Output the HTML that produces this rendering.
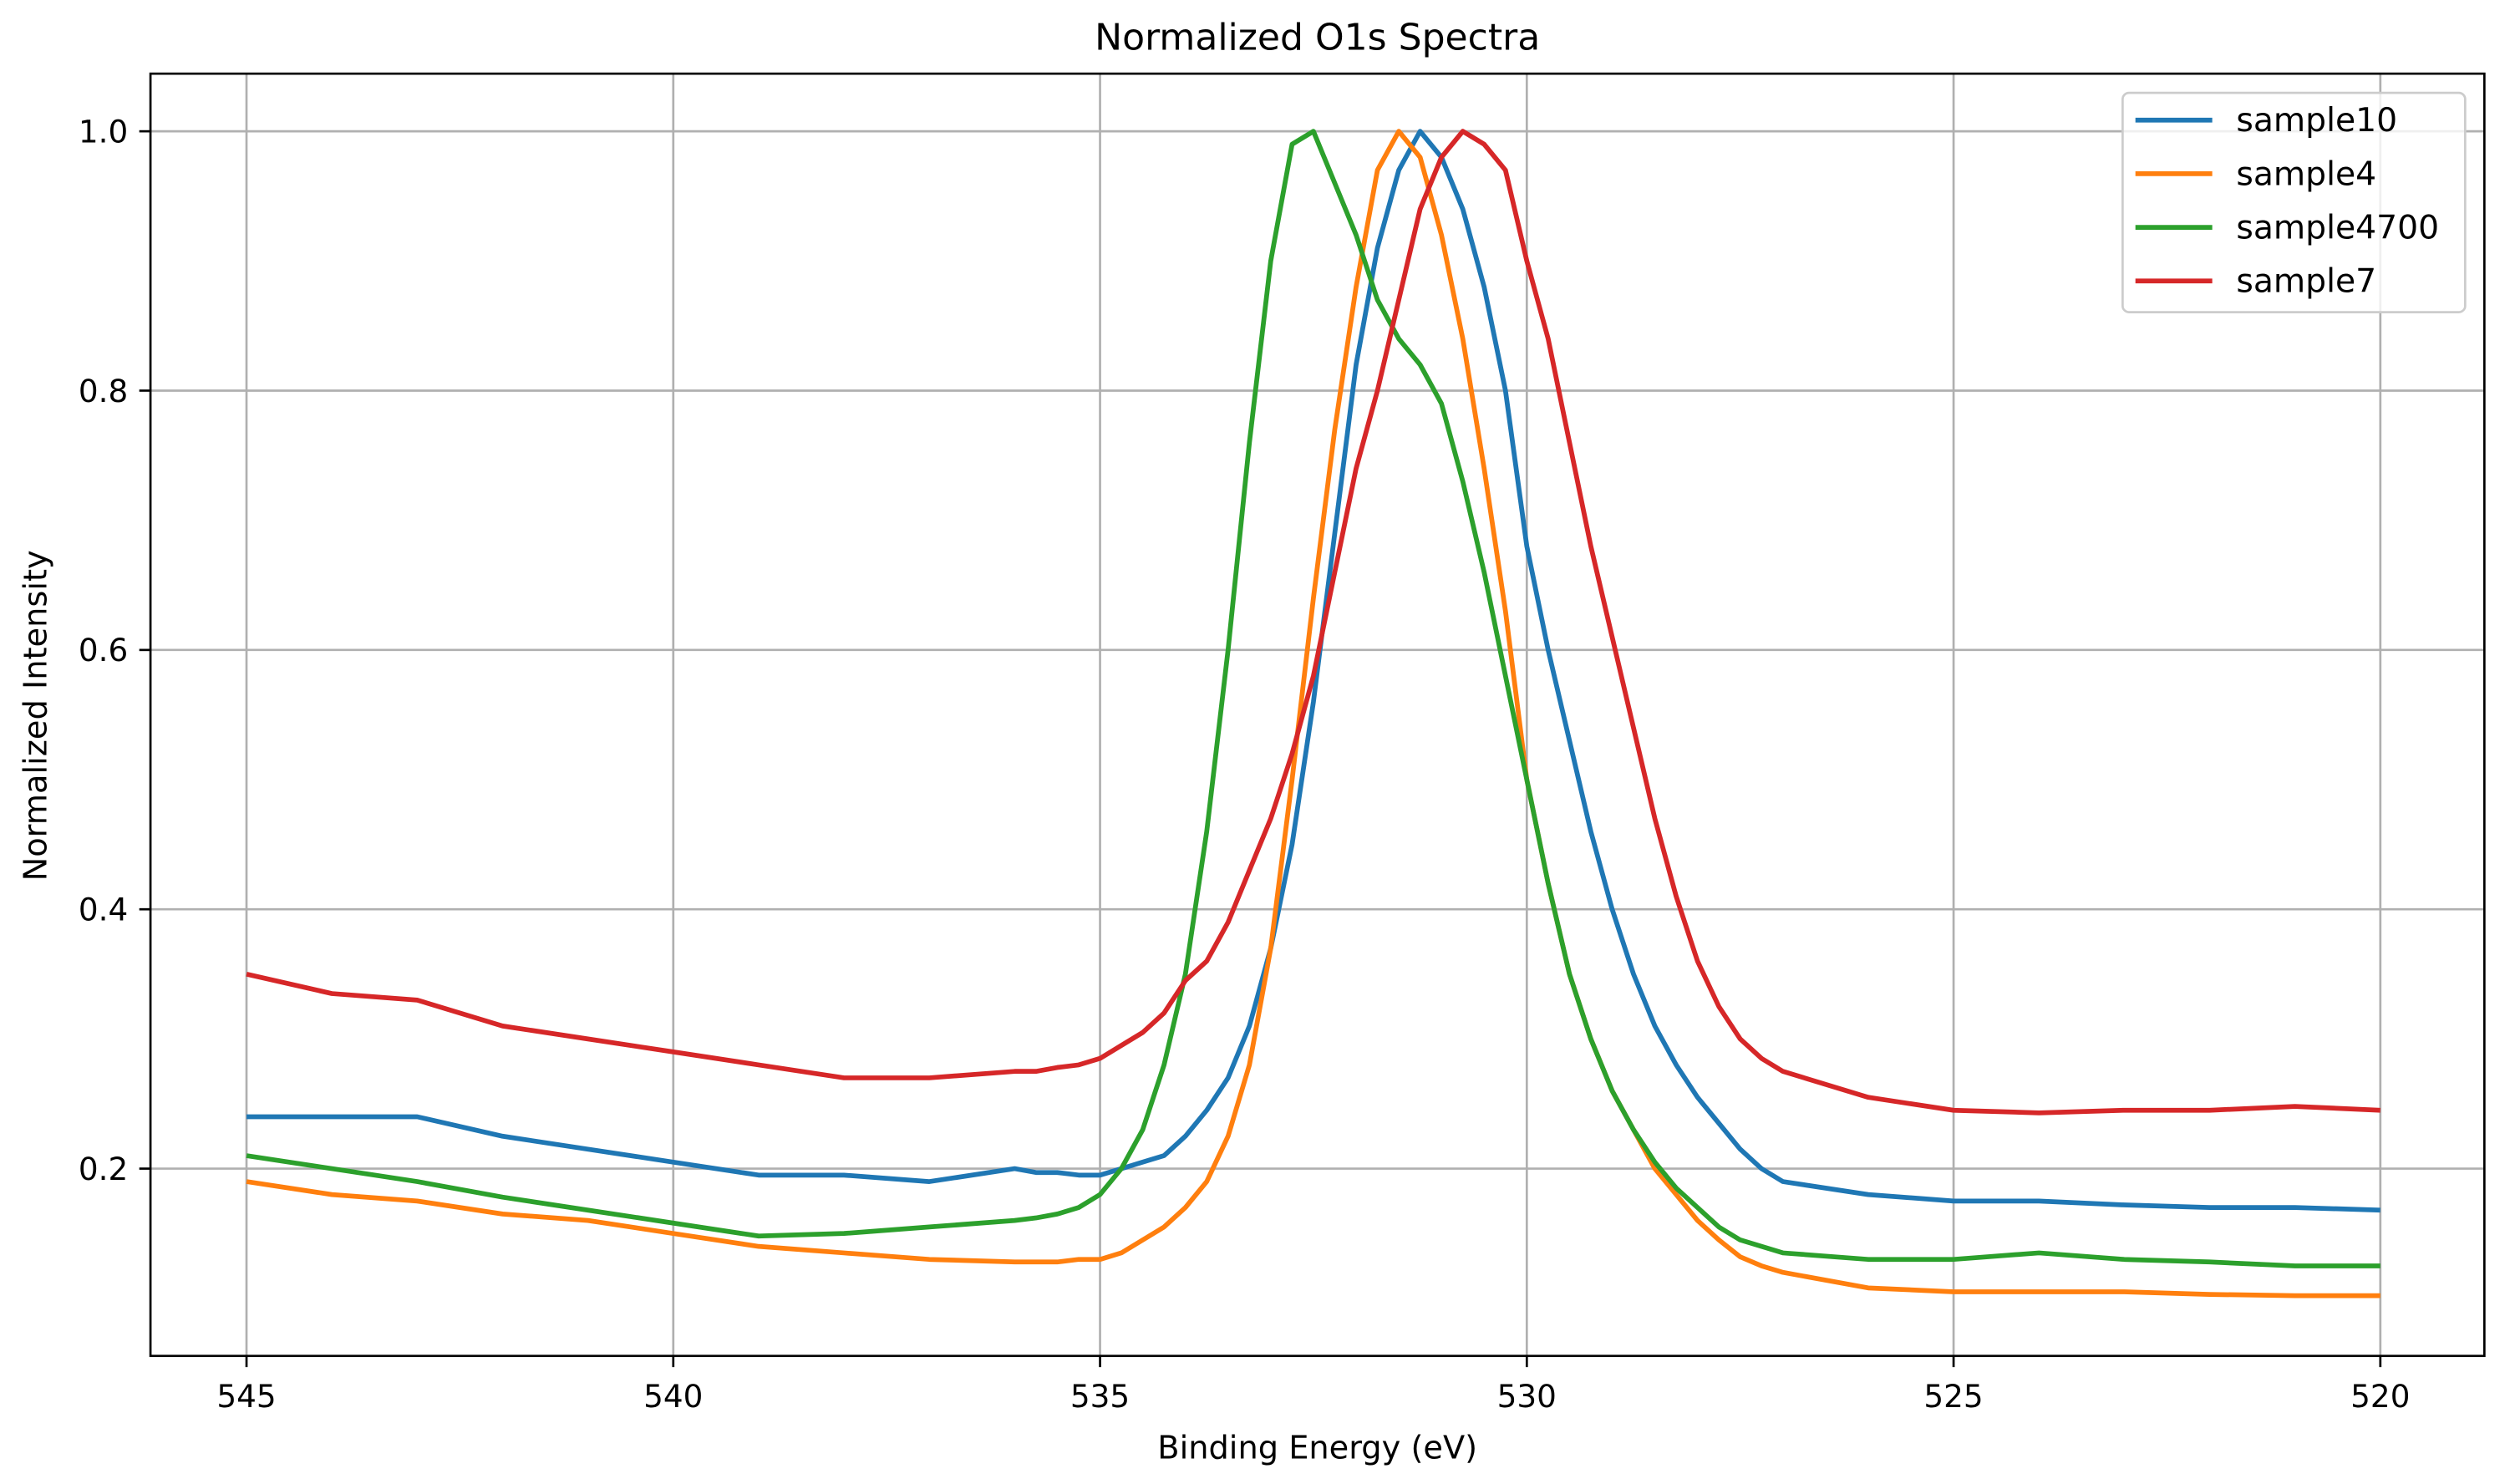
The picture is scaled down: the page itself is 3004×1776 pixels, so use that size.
<!DOCTYPE html>
<html><head><meta charset="utf-8">
<style>
html,body{margin:0;padding:0;background:#fff;}
svg{display:block;font-family:"DejaVu Sans","Liberation Sans",sans-serif;}
</style></head>
<body>
<svg id="chart" width="3004" height="1776" viewBox="0 0 1568 927" xmlns="http://www.w3.org/2000/svg">
<rect x="0" y="0" width="1568" height="927" fill="#fff"/>
<text x="823" y="31" font-size="23" text-anchor="middle" fill="#000">Normalized O1s Spectra</text>
<g id="grid"></g>
<g id="series"></g>
<rect x="94" y="46" width="1458" height="801" fill="none" stroke="#000" stroke-width="1.4"/>
<g id="ticks"></g>
<text x="823" y="911" font-size="20" text-anchor="middle" fill="#000">Binding Energy (eV)</text>
<text x="0" y="0" font-size="20" text-anchor="middle" fill="#000" transform="translate(29,447) rotate(-90)">Normalized Intensity</text>
<g id="legend"></g>
</svg>
<script>
const energies=[545,544,543,542,541,540,539,538,537,536,535.75,535.5,535.25,535,534.75,534.5,534.25,534,533.75,533.5,533.25,533,532.75,532.5,532.25,532,531.75,531.5,531.25,531,530.75,530.5,530.25,530,529.75,529.5,529.25,529,528.75,528.5,528.25,528,527.75,527.5,527.25,527,526,525,524,523,522,521,520];
const sample10=[0.24,0.24,0.24,0.225,0.215,0.205,0.195,0.195,0.19,0.20,0.197,0.197,0.195,0.195,0.20,0.205,0.21,0.225,0.245,0.27,0.31,0.37,0.45,0.56,0.69,0.82,0.91,0.97,1.0,0.98,0.94,0.88,0.80,0.68,0.60,0.53,0.46,0.40,0.35,0.31,0.28,0.255,0.235,0.215,0.20,0.19,0.18,0.175,0.175,0.172,0.17,0.17,0.168];
const sample4=[0.19,0.18,0.175,0.165,0.16,0.15,0.14,0.135,0.13,0.128,0.128,0.128,0.13,0.13,0.135,0.145,0.155,0.17,0.19,0.225,0.28,0.37,0.50,0.64,0.77,0.88,0.97,1.0,0.98,0.92,0.84,0.74,0.63,0.50,0.42,0.35,0.30,0.26,0.23,0.20,0.18,0.16,0.145,0.132,0.125,0.12,0.108,0.105,0.105,0.105,0.103,0.102,0.102];
const sample4700=[0.21,0.20,0.19,0.178,0.168,0.158,0.148,0.15,0.155,0.16,0.162,0.165,0.17,0.18,0.20,0.23,0.28,0.35,0.46,0.60,0.76,0.90,0.99,1.0,0.96,0.92,0.87,0.84,0.82,0.79,0.73,0.66,0.58,0.50,0.42,0.35,0.30,0.26,0.23,0.205,0.185,0.17,0.155,0.145,0.14,0.135,0.13,0.13,0.135,0.13,0.128,0.125,0.125];
const sample7=[0.35,0.335,0.33,0.31,0.30,0.29,0.28,0.27,0.27,0.275,0.275,0.278,0.28,0.285,0.295,0.305,0.32,0.345,0.36,0.39,0.43,0.47,0.52,0.58,0.66,0.74,0.80,0.87,0.94,0.98,1.0,0.99,0.97,0.90,0.84,0.76,0.68,0.61,0.54,0.47,0.41,0.36,0.325,0.30,0.285,0.275,0.255,0.245,0.243,0.245,0.245,0.248,0.245];
const seriesNames=["sample10","sample4","sample4700","sample7"];
const seriesColors=["#1f77b4","#ff7f0e","#2ca02c","#d62728"];
const xTicks=[545,540,535,530,525,520];
const yTicks=[0.2,0.4,0.6,0.8,1.0];
const NS="http://www.w3.org/2000/svg";
function xs(v){return 154+(545-v)*(1487-154)/25;}
function ys(v){return 730-(v-0.2)*(730-82)/0.8;}
function mk(tag,attrs,parent){const e=document.createElementNS(NS,tag);for(const k in attrs)e.setAttribute(k,attrs[k]);parent.appendChild(e);return e;}
const grid=document.getElementById('grid'),ticks=document.getElementById('ticks');
xTicks.forEach(t=>{
  const l=mk('line',{x1:xs(t),x2:xs(t),y1:46,y2:847,stroke:'#b0b0b0','stroke-width':1.4},grid);
  
  
  const tk=mk('line',{x1:xs(t),x2:xs(t),y1:847,y2:854,stroke:'#000','stroke-width':1.4},ticks);
  
  
  const tx=mk('text',{x:xs(t),y:879,'font-size':19.5,'text-anchor':'middle',fill:'#000'},ticks);
  tx.textContent=String(t);
  
  
});
yTicks.forEach(t=>{
  const l=mk('line',{x1:94,x2:1552,y1:ys(t),y2:ys(t),stroke:'#b0b0b0','stroke-width':1.4},grid);
  
  
  const tk=mk('line',{x1:87,x2:94,y1:ys(t),y2:ys(t),stroke:'#000','stroke-width':1.4},ticks);
  
  
  const tx=mk('text',{x:80,y:ys(t)+7,'font-size':19.5,'text-anchor':'end',fill:'#000'},ticks);
  tx.textContent=t.toFixed(1);
  
  
});
const data=[sample10,sample4,sample4700,sample7];
const sg=document.getElementById('series');
data.forEach((arr,i)=>{
  const d=arr.map((v,j)=>(j?'L':'M')+xs(energies[j]).toFixed(2)+','+ys(v).toFixed(2)).join(' ');
  const p=mk('path',{d:d,fill:'none',stroke:seriesColors[i],'stroke-width':3,'stroke-linejoin':'round'},sg);
  
  
});
const lg=document.getElementById('legend');
const box=mk('rect',{x:1326,y:58,width:214,height:137,rx:4,fill:'#fff','fill-opacity':0.8,stroke:'#ccc','stroke-width':1.4},lg);


seriesNames.forEach((n,i)=>{
  const y=75+i*33.5;
  const ln=mk('line',{x1:1334,x2:1382,y1:y,y2:y,stroke:seriesColors[i],'stroke-width':3},lg);
  
  
  const tx=mk('text',{x:1397,y:y+7,'font-size':20.5,fill:'#000'},lg);
  tx.textContent=n;
  
  
});
</script>
</body></html>
